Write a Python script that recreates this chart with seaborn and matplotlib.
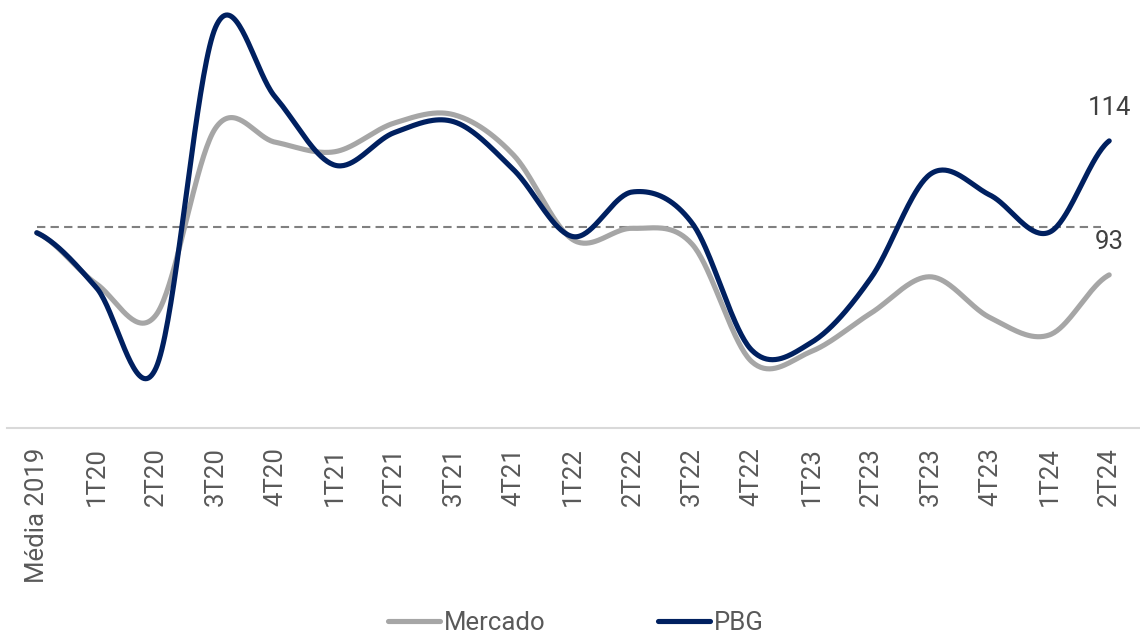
import numpy as np
import pandas as pd
import matplotlib
matplotlib.use("Agg")
import matplotlib.pyplot as plt
import seaborn as sns

# data (index, média 2019 ~ 100)
periods = ["Média 2019", "1T20", "2T20", "3T20", "4T20", "1T21", "2T21", "3T21",
           "4T21", "1T22", "2T22", "3T22", "4T22", "1T23", "2T23", "3T23", "4T23",
           "1T24", "2T24"]
mercado = [99.6, 91.6, 86.7, 116.0, 113.8, 112.3, 116.8, 118.1, 111.8, 98.5,
           100.3, 97.8, 79.4, 81.0, 87.0, 92.7, 86.3, 83.6, 93.0]
pbg = [99.6, 91.0, 78.4, 131.8, 120.9, 110.2, 115.3, 117.0, 109.5, 99.0,
       106.0, 101.1, 81.2, 82.4, 92.5, 108.8, 105.5, 99.7, 114.0]
ref_level = 100.5

colors = {"Mercado": "#A6A6A6", "PBG": "#002060"}
text_grey = "#595959"


def smooth(vals, n=40):
    # catmull-rom, same look as excel's "smoothed line"
    p = np.r_[vals[0], vals, vals[-1]]
    xs, ys = [], []
    t = np.linspace(0, 1, n, endpoint=False)
    for i in range(len(vals) - 1):
        p0, p1, p2, p3 = p[i], p[i + 1], p[i + 2], p[i + 3]
        y = 0.5 * (2 * p1 + (-p0 + p2) * t + (2 * p0 - 5 * p1 + 4 * p2 - p3) * t ** 2
                   + (-p0 + 3 * p1 - 3 * p2 + p3) * t ** 3)
        xs.append(i + t)
        ys.append(y)
    xs.append([len(vals) - 1])
    ys.append([vals[-1]])
    return np.concatenate(xs), np.concatenate(ys)


rows = []
for name, vals in [("Mercado", mercado), ("PBG", pbg)]:
    sx, sy = smooth(np.array(vals, dtype=float))
    rows.append(pd.DataFrame({"x": sx, "y": sy, "serie": name}))
df = pd.concat(rows, ignore_index=True)

sns.set_style("white")
plt.rcParams["font.family"] = ["Roboto", "DejaVu Sans"]

fig = plt.figure(figsize=(11.4, 6.37), dpi=100)
ax = fig.add_axes([7 / 1140, (637 - 428) / 637, 1132 / 1140, 423 / 637])

ax.hlines(ref_level, 0, len(periods) - 1.13, colors="#808080", linestyles=(0, (4, 2.5)),
          linewidth=1.5, zorder=1)

sns.lineplot(data=df, x="x", y="y", hue="serie", hue_order=["Mercado", "PBG"],
             palette=colors, linewidth=3.7, sort=False, estimator=None,
             solid_capstyle="round", ax=ax, zorder=3)

# value labels at the last point
ax.annotate(f"{pbg[-1]:.0f}", xy=(len(periods) - 1, pbg[-1]), xytext=(0, 24),
            textcoords="offset points", ha="center", va="center",
            fontsize=18.5, color="#404040")
ax.annotate(f"{mercado[-1]:.0f}", xy=(len(periods) - 1, mercado[-1]), xytext=(0, 24),
            textcoords="offset points", ha="center", va="center",
            fontsize=18.5, color="#404040")

ax.set_xlim(-0.5, len(periods) - 0.5)
ax.set_ylim(69.0, 135.3)
ax.set_xlabel("")
ax.set_ylabel("")
ax.set_yticks([])
ax.set_xticks(range(len(periods)))
ax.set_xticklabels(periods, rotation=90)
ax.set_xticks(np.arange(-0.5, len(periods), 1), minor=True)
ax.tick_params(axis="x", which="major", length=0, pad=14, labelsize=18.5,
               labelcolor=text_grey)
ax.tick_params(axis="x", which="minor", length=7, width=1.5, color="#D9D9D9",
               direction="out")
for s in ["left", "right", "top"]:
    ax.spines[s].set_visible(False)
ax.spines["bottom"].set_color("#D9D9D9")
ax.spines["bottom"].set_linewidth(1.5)

handles, labels = ax.get_legend_handles_labels()
ax.get_legend().remove()
fig.legend(handles, labels, loc="center", bbox_to_anchor=(576 / 1140, 1 - 623 / 637),
           ncol=2, frameon=False, fontsize=18.5, labelcolor=text_grey,
           handlelength=2.0, handletextpad=0.15, columnspacing=4.4)

fig.savefig("out.png", dpi=100)
